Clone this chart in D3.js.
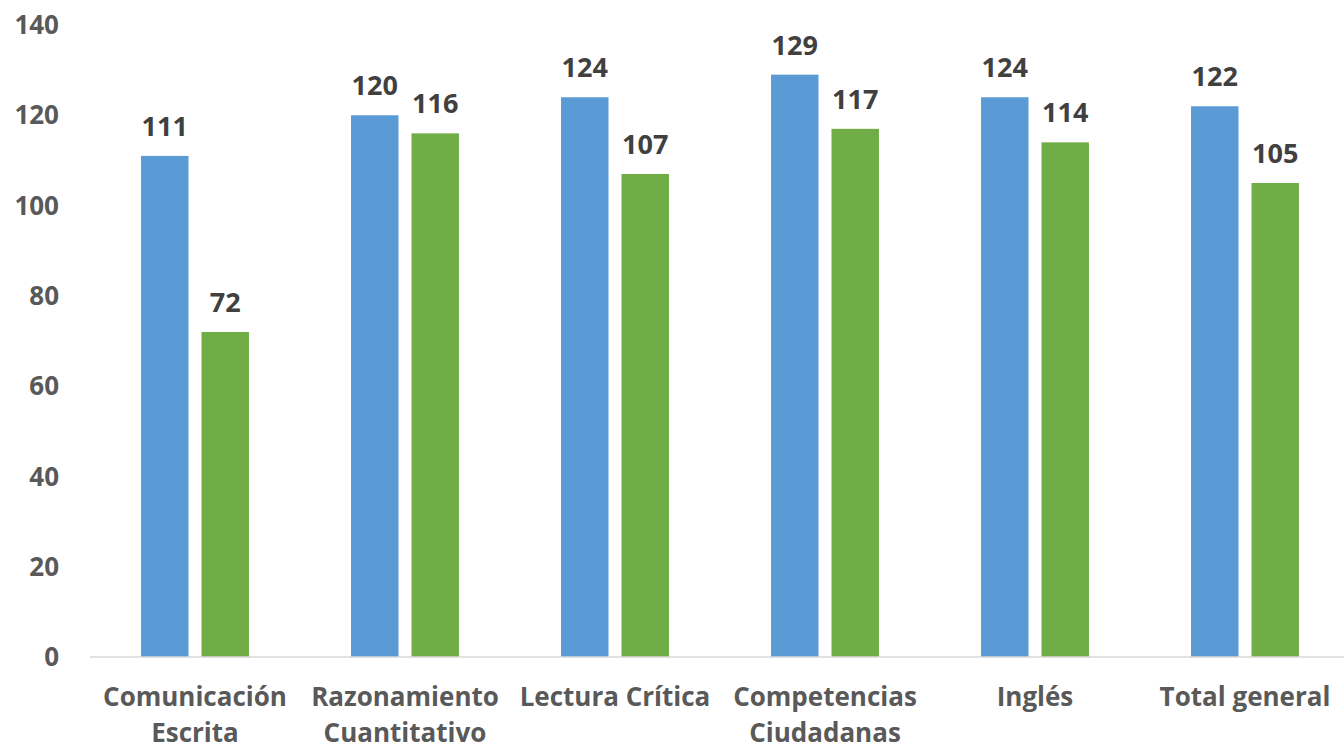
<!DOCTYPE html>
<html lang="es">
<head>
<meta charset="utf-8">
<script src="https://d3js.org/d3.v7.min.js"></script>
<style>
  body { margin: 0; background: #ffffff; }
  text { font-family: "Open Sans", sans-serif; font-weight: bold; }
</style>
</head>
<body>
<div id="chart"></div>
<script>
// data
var categories = ["Comunicación Escrita", "Razonamiento Cuantitativo", "Lectura Crítica",
                  "Competencias Ciudadanas", "Inglés", "Total general"];
var categoryLines = [["Comunicación", "Escrita"], ["Razonamiento", "Cuantitativo"], ["Lectura Crítica"],
                     ["Competencias", "Ciudadanas"], ["Inglés"], ["Total general"]];
var seriesA = [111, 120, 124, 129, 124, 122];
var seriesB = [72, 116, 107, 117, 114, 105];
var yTicks = [0, 20, 40, 60, 80, 100, 120, 140];

var width = 1344, height = 750;
var margin = {top: 25, right: -6, bottom: 93, left: 90};

var svg = d3.select("#chart").append("svg")
    .attr("width", width)
    .attr("height", height);

var x = d3.scaleBand()
    .domain(categories)
    .range([margin.left, width - margin.right])
    .paddingInner(0.486)
    .paddingOuter(0.243);

var x1 = d3.scaleBand()
    .domain(["a", "b"])
    .range([0, x.bandwidth()])
    .paddingInner(0.215);

var y = d3.scaleLinear()
    .domain([0, 140])
    .range([height - margin.bottom, margin.top]);

// y tick labels (no axis line)
svg.append("g").selectAll("text")
    .data(yTicks)
    .join("text")
    .attr("x", 59)
    .attr("y", d => y(d))
    .attr("dy", "0.35em")
    .attr("text-anchor", "end")
    .attr("fill", "#595959")
    .attr("font-size", 26)
    .text(d => d);

var rows = categories.map((c, i) => ({cat: c, a: seriesA[i], b: seriesB[i]}));

var groups = svg.append("g").selectAll("g")
    .data(rows)
    .join("g")
    .attr("transform", d => "translate(" + x(d.cat) + ",0)");

groups.append("rect")
    .attr("x", x1("a"))
    .attr("y", d => y(d.a))
    .attr("width", x1.bandwidth())
    .attr("height", d => y(0) - y(d.a))
    .attr("fill", "#5b9bd5");

groups.append("rect")
    .attr("x", x1("b"))
    .attr("y", d => y(d.b))
    .attr("width", x1.bandwidth())
    .attr("height", d => y(0) - y(d.b))
    .attr("fill", "#70ad47");

groups.append("text")
    .attr("x", x1("a") + x1.bandwidth() / 2)
    .attr("y", d => y(d.a) - 20)
    .attr("text-anchor", "middle")
    .attr("fill", "#404040")
    .attr("font-size", 27)
    .text(d => d.a);

groups.append("text")
    .attr("x", x1("b") + x1.bandwidth() / 2)
    .attr("y", d => y(d.b) - 20)
    .attr("text-anchor", "middle")
    .attr("fill", "#404040")
    .attr("font-size", 27)
    .text(d => d.b);

// baseline
svg.append("line")
    .attr("x1", margin.left)
    .attr("x2", width)
    .attr("y1", y(0))
    .attr("y2", y(0))
    .attr("stroke", "#d9d9d9")
    .attr("stroke-width", 1.5);

// category labels
var catLabels = svg.append("g").selectAll("text")
    .data(categories)
    .join("text")
    .attr("x", d => x(d) + x.bandwidth() / 2)
    .attr("y", 706)
    .attr("text-anchor", "middle")
    .attr("fill", "#595959")
    .attr("font-size", 26);

catLabels.each(function(d, i) {
    d3.select(this).selectAll("tspan")
        .data(categoryLines[i])
        .join("tspan")
        .attr("x", x(d) + x.bandwidth() / 2)
        .attr("dy", (t, j) => j === 0 ? 0 : 36)
        .text(t => t);
});
</script>
</body>
</html>
